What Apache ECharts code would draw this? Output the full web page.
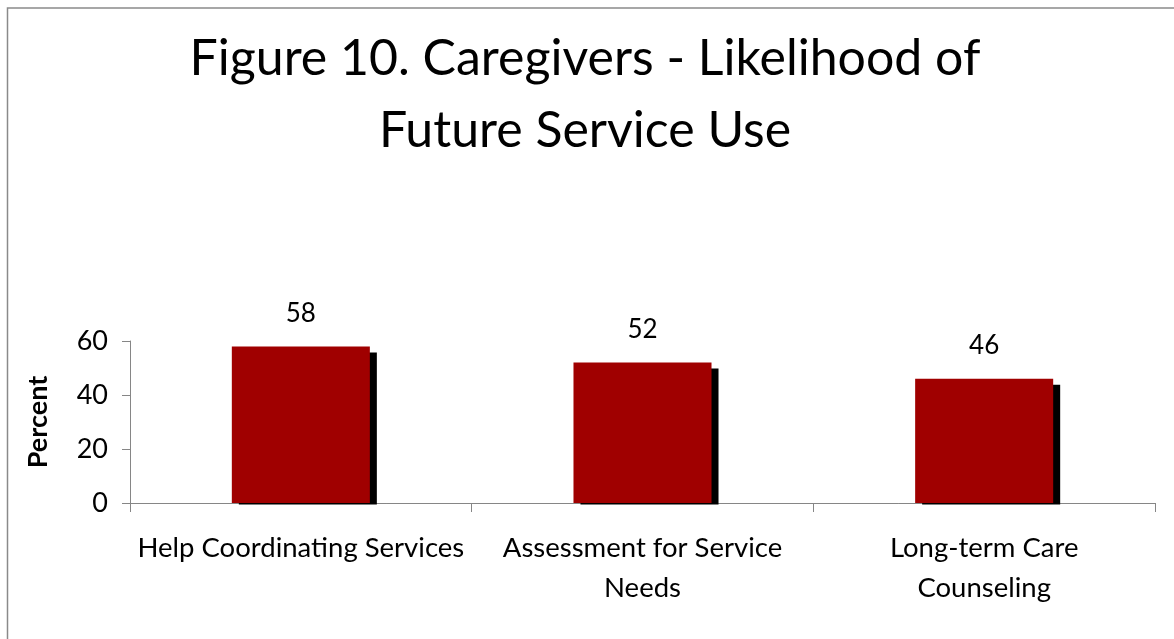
<!DOCTYPE html>
<html>
<head>
<meta charset="utf-8">
<script src="https://cdn.jsdelivr.net/npm/echarts@6/dist/echarts.min.js"></script>
<style>
  html, body { margin: 0; padding: 0; background: #fff; }
  #chart { width: 1174px; height: 639px; }
</style>
</head>
<body>
<div id="chart"></div>
<script>
const titleText = 'Figure 10. Caregivers - Likelihood of\nFuture Service Use';
const categories = ['Help Coordinating Services', 'Assessment for Service\nNeeds', 'Long-term Care\nCounseling'];
const percentValues = [58, 52, 46];
const yTicks = { min: 0, max: 60, interval: 20 };
const yAxisName = 'Percent';

const FONT = 'Lato, "Open Sans", sans-serif';
const barColor = '#A00000';
const shadowColor = '#000000';

const chart = echarts.init(document.getElementById('chart'), null, { renderer: 'canvas' });

const seriesData = categories.map((c, i) => [i, percentValues[i]]);

const option = {
  backgroundColor: '#ffffff',
  animation: false,
  title: {
    text: titleText,
    left: 580,
    textAlign: 'center',
    top: 18,
    textStyle: {
      fontFamily: FONT,
      fontSize: 50,
      fontWeight: 'normal',
      color: '#000',
      lineHeight: 72
    }
  },
  graphic: [{
    type: 'rect',
    shape: { x: 7.5, y: 8, width: 1300, height: 1000 },
    style: { fill: null, stroke: '#8a8a8a', lineWidth: 1.5 },
    silent: true,
    z: -1
  }],
  grid: { left: 130, right: 19, top: 341, bottom: 136, containLabel: false },
  xAxis: {
    type: 'category',
    data: categories,
    boundaryGap: true,
    axisLine: { show: true, lineStyle: { color: '#868686', width: 1 } },
    axisTick: { show: true, alignWithLabel: false, length: 9, lineStyle: { color: '#868686' } },
    axisLabel: {
      color: '#000',
      fontFamily: FONT,
      fontSize: 27.5,
      lineHeight: 40,
      margin: 25,
      interval: 0
    },
    splitLine: { show: false }
  },
  yAxis: {
    type: 'value',
    min: yTicks.min,
    max: yTicks.max,
    interval: yTicks.interval,
    name: yAxisName,
    nameLocation: 'middle',
    nameRotate: 90,
    nameGap: 78,
    nameTextStyle: { fontFamily: FONT, fontSize: 27, fontWeight: 'bold', color: '#000' },
    axisLine: { show: true, lineStyle: { color: '#868686', width: 1 } },
    axisTick: { show: true, length: 8, lineStyle: { color: '#868686' } },
    axisLabel: { color: '#000', fontFamily: FONT, fontSize: 27, margin: 22 },
    splitLine: { show: false }
  },
  series: [{
    type: 'custom',
    data: seriesData,
    encode: { x: 0, y: 1 },
    renderItem: function (params, api) {
      const idx = api.value(0);
      const v = api.value(1);
      const top = api.coord([idx, v]);
      const base = api.coord([idx, 0]);
      const bw = api.size([1, 0])[0] * 0.404;
      const x = top[0] - bw / 2;
      const h = base[1] - top[1];
      return {
        type: 'group',
        children: [
          {
            type: 'rect',
            shape: { x: x + 7, y: top[1] + 6, width: bw, height: h - 6 + 1.5 },
            style: { fill: shadowColor }
          },
          {
            type: 'rect',
            shape: { x: x, y: top[1], width: bw, height: h },
            style: { fill: barColor }
          },
          {
            type: 'text',
            x: top[0],
            y: top[1] - 20,
            style: {
              text: String(v),
              fill: '#000',
              font: '26px ' + FONT,
              align: 'center',
              verticalAlign: 'bottom'
            }
          }
        ]
      };
    }
  }]
};

chart.setOption(option);
</script>
</body>
</html>
